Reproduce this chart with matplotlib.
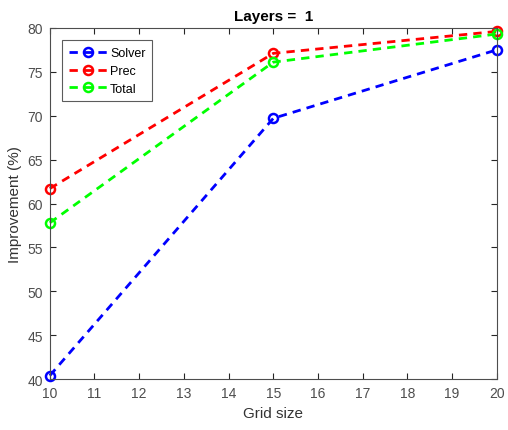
import matplotlib
matplotlib.use('Agg')
import matplotlib.pyplot as plt

grid_size = [10, 15, 20]
solver = [40.4, 69.7, 77.5]
prec = [61.7, 77.1, 79.6]
total = [57.8, 76.1, 79.3]

plt.rcParams['font.family'] = ['Liberation Sans', 'DejaVu Sans']

fig = plt.figure(figsize=(5.08, 4.31), dpi=100)
ax = fig.add_axes([0.098, 0.118, 0.880, 0.815])

style = dict(lw=2, ms=6.5, mfc='none', mew=1.8, dashes=(3, 2.2))
ax.plot(grid_size, solver, '--o', color='blue', label='Solver', **style)
ax.plot(grid_size, prec, '--o', color='red', label='Prec', **style)
ax.plot(grid_size, total, '--o', color='#00ff00', label='Total', **style)

ax.set_xlim(10, 20)
ax.set_ylim(40, 80)
ax.set_xticks(range(10, 21))
ax.set_yticks(range(40, 81, 5))
ax.tick_params(direction='in', top=True, right=True, labelsize=10, length=4.5,
               colors='#262626', labelcolor='#4d4d4d', pad=5)
for s in ax.spines.values():
    s.set_color('#4d4d4d')
    s.set_linewidth(0.8)
for p in ax.get_lines():
    p.set_clip_on(False)

ax.set_xlabel('Grid size', fontsize=11, color='#333333')
ax.set_ylabel('Improvement (%)', fontsize=11, color='#333333')
ax.set_title('Layers =  1', fontsize=11, fontweight='bold', color='black')

leg = ax.legend(loc='upper left', bbox_to_anchor=(0.02, 0.975), fontsize=9, fancybox=False,
                handlelength=3.0, borderpad=0.55, labelspacing=0.45, handletextpad=0.25,
                borderaxespad=0.3)
leg.get_frame().set_edgecolor('#333333')
leg.get_frame().set_linewidth(0.8)

fig.savefig('out.png', dpi=100)
